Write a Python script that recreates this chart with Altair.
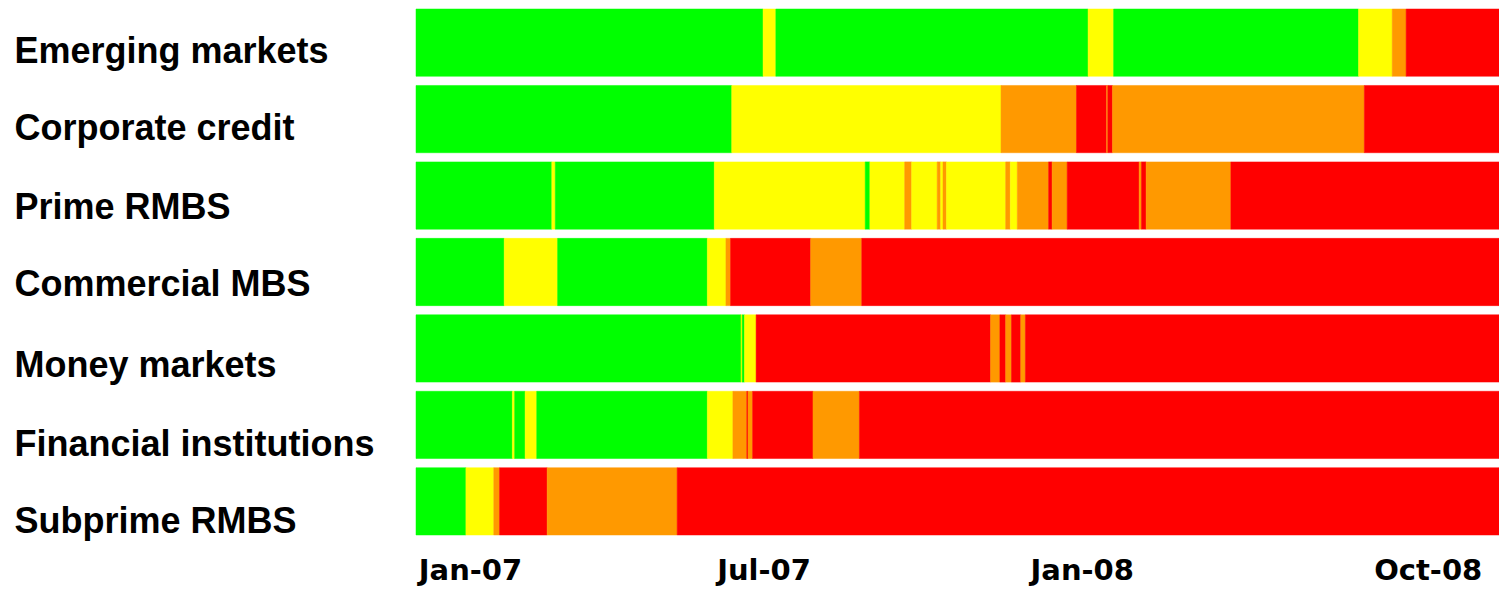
import altair as alt
import pandas as pd

# Row categories (top to bottom)
categories = [
    "Emerging markets",
    "Corporate credit",
    "Prime RMBS",
    "Commercial MBS",
    "Money markets",
    "Financial institutions",
    "Subprime RMBS",
]

# time axis in weeks since the start of Jan-07 (right edge of the visible strip)
period_end = 93.3

# risk levels: G = low, Y = moderate, O = elevated, R = high
level_names = ["G", "Y", "O", "R"]
level_colors = ["#00ff00", "#ffff00", "#ff9900", "#ff0000"]

# segment start (weeks) and level for each row
em_starts = [0, 29.9, 31.0, 57.9, 60.1, 81.2, 84.1, 85.3]
em_levels = ["G", "Y", "G", "Y", "G", "Y", "O", "R"]

cc_starts = [0, 27.2, 50.4, 56.9, 59.5, 59.6, 60.0, 81.7]
cc_levels = ["G", "Y", "O", "R", "O", "R", "O", "R"]

pr_starts = [0, 11.7, 12.0, 25.7, 38.7, 39.1, 42.1, 42.7, 44.9, 45.2, 45.4, 45.7,
             50.8, 51.2, 51.8, 54.5, 54.8, 56.1, 62.3, 62.5, 62.9, 70.2]
pr_levels = ["G", "Y", "G", "Y", "G", "Y", "O", "Y", "O", "Y", "O", "Y",
             "O", "Y", "O", "R", "O", "R", "O", "R", "O", "R"]

cm_starts = [0, 7.6, 12.2, 25.1, 26.7, 27.1, 34.0, 38.4]
cm_levels = ["G", "Y", "G", "Y", "O", "R", "O", "R"]

mm_starts = [0, 28.0, 28.1, 28.3, 29.3, 49.5, 50.3, 50.8, 51.3, 52.1, 52.5]
mm_levels = ["G", "Y", "G", "Y", "R", "O", "R", "O", "R", "O", "R"]

fi_starts = [0, 8.3, 8.5, 9.4, 10.4, 25.1, 27.3, 28.5, 28.6, 29.0, 34.2, 38.2]
fi_levels = ["G", "Y", "G", "Y", "G", "Y", "O", "R", "O", "R", "O", "R"]

sp_starts = [0, 4.3, 6.7, 7.2, 11.3, 22.5]
sp_levels = ["G", "Y", "O", "R", "O", "R"]

# x-axis tick labels and where they sit (weeks)
tick_labels = ["Jan-07", "Jul-07", "Jan-08", "Oct-08"]
tick_pos = [0.2, 25.9, 52.9, 82.5]

all_starts = [em_starts, cc_starts, pr_starts, cm_starts, mm_starts, fi_starts, sp_starts]
all_levels = [em_levels, cc_levels, pr_levels, cm_levels, mm_levels, fi_levels, sp_levels]

rows = []
for cat, st, lv in zip(categories, all_starts, all_levels):
    ends = st[1:] + [period_end]
    for s, e, l in zip(st, ends, lv):
        rows.append({"row": cat, "start": s, "end": e, "level": l})
df = pd.DataFrame(rows)

label_expr = " : ".join(
    f"datum.value == {p} ? '{t}'" for p, t in zip(tick_pos, tick_labels)
) + " : ''"


def in_test(names):
    return " || ".join(f"datum.value == '{n}'" for n in names)


y_label_offset = {
    "condition": [
        {"test": in_test(categories[0:2]), "value": 9.6},
        {"test": in_test(categories[2:4]), "value": 12.6},
        {"test": in_test(categories[4:5]), "value": 18.0},
    ],
    "value": 20.3,
}

color_scale = alt.Scale(domain=level_names, range=level_colors)

chart = (
    alt.Chart(df)
    .mark_bar(strokeWidth=0.5)
    .encode(
        x=alt.X(
            "start:Q",
            scale=alt.Scale(domain=[0, period_end], nice=False, zero=False),
            axis=alt.Axis(
                values=tick_pos,
                labelExpr=label_expr,
                title=None,
                domain=False,
                ticks=False,
                tickSize=0,
                grid=False,
                labelAlign="left",
                labelBaseline="alphabetic",
                labelPadding=44,
                labelFont="DejaVu Sans",
                labelFontSize=29,
                labelFontWeight="bold",
                labelColor="black",
                labelOverlap=False,
                labelFlush=False,
                labelBound=False,
            ),
        ),
        x2="end:Q",
        y=alt.Y(
            "row:N",
            sort=categories,
            scale=alt.Scale(paddingInner=0.12, paddingOuter=0),
            axis=alt.Axis(
                title=None,
                domain=False,
                ticks=False,
                tickSize=0,
                grid=False,
                labelAlign="left",
                labelBaseline="middle",
                labelPadding=402,
                labelLimit=0,
                labelFont="Liberation Sans",
                labelFontSize=36,
                labelFontWeight="bold",
                labelColor="black",
                labelOffset=y_label_offset,
            ),
        ),
        color=alt.Color("level:N", scale=color_scale, legend=None),
        stroke=alt.Stroke("level:N", scale=color_scale, legend=None),
    )
    .properties(
        width=1083,
        height=526,
        autosize=alt.AutoSizeParams(type="none"),
        padding={"left": 408, "top": 1, "right": 0, "bottom": 51},
        background="white",
    )
    .configure_view(stroke=None)
)

chart.save("out.html", embed_options={"renderer": "svg", "actions": False})
